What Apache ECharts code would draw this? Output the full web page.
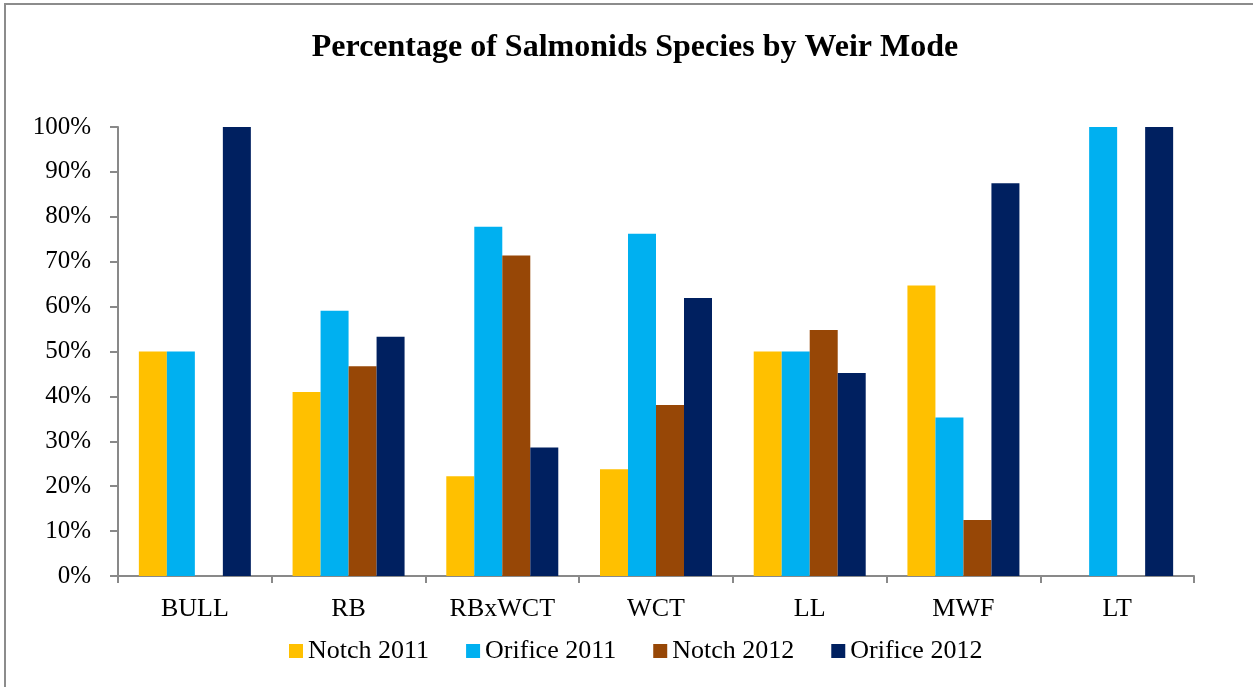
<!DOCTYPE html>
<html>
<head>
<meta charset="utf-8">
<script src="https://cdn.jsdelivr.net/npm/echarts@6/dist/echarts.min.js"></script>
<style>
  html, body { margin: 0; padding: 0; background: #fff; }
  #chart { width: 1253px; height: 687px; }
</style>
</head>
<body>
<div id="chart"></div>
<script>
// species on the x axis
var species = ['BULL', 'RB', 'RBxWCT', 'WCT', 'LL', 'MWF', 'LT'];
var seriesNames = ['Notch 2011', 'Orifice 2011', 'Notch 2012', 'Orifice 2012'];
// percentages
var notch2011   = [50, 41.0, 22.2, 23.8, 50, 64.7, 0];
var orifice2011 = [50, 59.1, 77.8, 76.2, 50, 35.3, 100];
var notch2012   = [0, 46.7, 71.4, 38.1, 54.8, 12.5, 0];
var orifice2012 = [100, 53.3, 28.6, 61.9, 45.2, 87.5, 100];
var colors = ['#FFC000', '#00B0F0', '#974706', '#002060'];

var font = '"Liberation Serif", "Times New Roman", serif';
var myChart = echarts.init(document.getElementById('chart'));

var values = [notch2011, orifice2011, notch2012, orifice2012];
var series = [];
for (var i = 0; i < seriesNames.length; i++) {
    series.push({
        name: seriesNames[i],
        type: 'bar',
        data: values[i],
        barWidth: 28,
        barGap: '0%',
        itemStyle: { color: colors[i] }
    });
}

myChart.setOption({
    animation: false,
    textStyle: { fontFamily: font },
    title: {
        text: 'Percentage of Salmonids Species by Weir Mode',
        left: 630,
        textAlign: 'center',
        top: 27,
        textStyle: { fontFamily: font, fontSize: 32, fontWeight: 'bold', color: '#000' }
    },
    graphic: [{
        type: 'polyline',
        shape: { points: [[5, 700], [5, 4], [1260, 4]] },
        style: { stroke: '#8c8c8c', lineWidth: 2, fill: null }
    }],
    grid: { left: 118, right: 59, top: 127, bottom: 111 },
    legend: {
        data: seriesNames,
        bottom: 18,
        left: 284,
        icon: 'rect',
        itemWidth: 14,
        itemHeight: 14,
        itemGap: 37,
        textStyle: { fontFamily: font, fontSize: 26, color: '#000' }
    },
    xAxis: {
        type: 'category',
        data: species,
        axisLine: { lineStyle: { color: '#898989', width: 2 } },
        axisTick: { show: true, length: 7, lineStyle: { color: '#898989', width: 2 } },
        axisLabel: { fontFamily: font, fontSize: 26, color: '#000', margin: 20 }
    },
    yAxis: {
        type: 'value',
        min: 0,
        max: 100,
        interval: 10,
        axisLine: { show: true, lineStyle: { color: '#898989', width: 2 } },
        axisTick: { show: true, length: 8, lineStyle: { color: '#898989', width: 2 } },
        axisLabel: { fontFamily: font, fontSize: 25, color: '#000', margin: 27, formatter: '{value}%' },
        splitLine: { show: false }
    },
    series: series
});
</script>
</body>
</html>
